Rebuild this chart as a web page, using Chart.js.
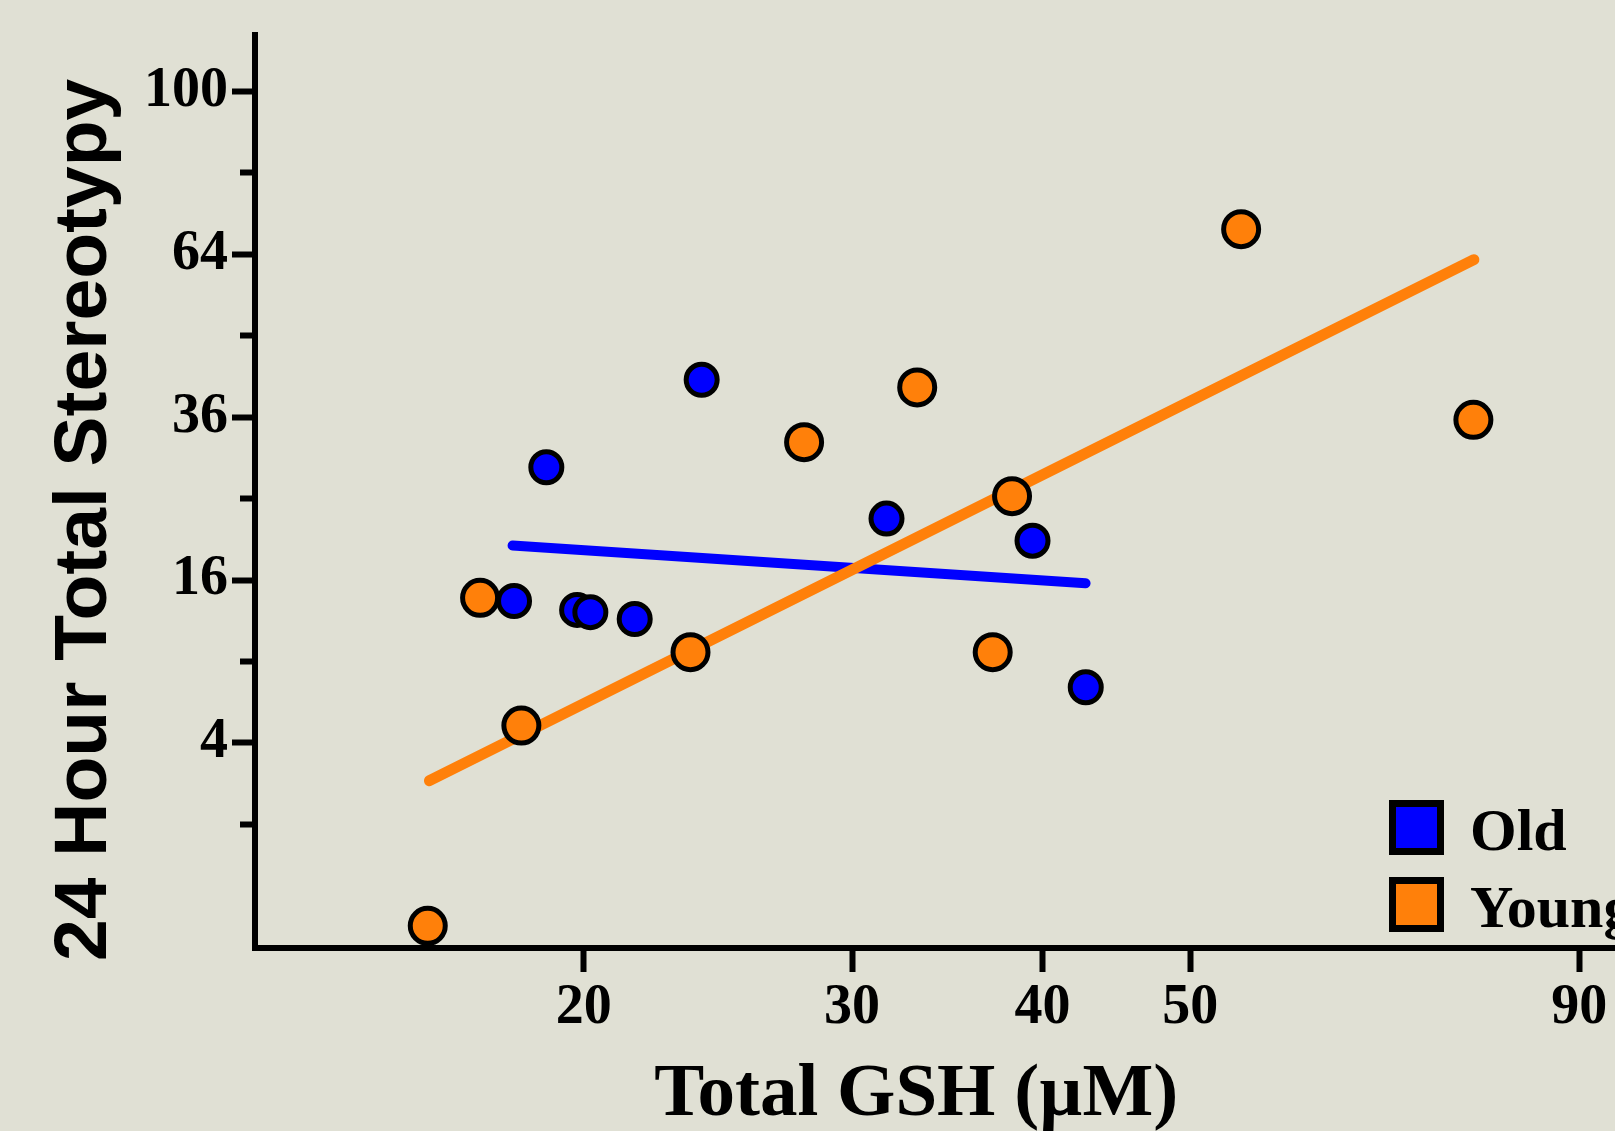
<!DOCTYPE html>
<html>
<head>
<meta charset="utf-8">
<title>Total GSH vs 24 Hour Total Stereotypy</title>
<script src="https://cdn.jsdelivr.net/npm/chart.js@4.4.1/dist/chart.umd.min.js"></script>
<style>
  html, body { margin: 0; padding: 0; background: #e0e0d4; overflow: hidden; }
  #wrap { position: relative; width: 1615px; height: 1131px; }
  #legend {
    position: absolute; left: 1389px; top: 800px;
    font: bold 60px "Liberation Serif", "Times New Roman", serif;
    color: #000; white-space: nowrap;
  }
  .item { display: flex; align-items: flex-start; height: 55px; margin-bottom: 22px; }
  .box { width: 55px; height: 55px; box-sizing: border-box; border: 7px solid #000; }
  .label { margin-left: 26px; line-height: 1; }
</style>
</head>
<body>
<div id="wrap">
  <canvas id="chart" width="1615" height="1131"></canvas>
  <div id="legend"></div>
</div>
<script>
// valores (GSH em µM, estereotipia em 24 h)
const oldGsh = [23.9, 18.9, 18.0, 19.8, 20.2, 21.6, 31.6, 39.4, 42.7];
const oldStereo = [41.7, 29.0, 14.0, 13.2, 13.0, 12.4, 22.6, 20.1, 7.2];
const youngGsh = [15.8, 17.1, 18.2, 23.5, 27.9, 33.1, 37.1, 38.2, 54.0, 76.7];
const youngStereo = [-0.06, 14.3, 4.9, 9.7, 32.4, 40.5, 9.7, 25.3, 69.0, 35.6];

// retas de regressão (extremos)
const oldFitGsh = [17.96, 42.69];
const oldFitStereo = [19.57, 15.69];
const youngFitGsh = [15.84, 76.76];
const youngFitStereo = [2.36, 62.93];

const groups = ['Old', 'Young'];
const groupColors = ['#0000ff', '#ff800a'];

const xTicks = [20, 30, 40, 50, 90];
const yTicks = [1, 4, 9, 16, 25, 36, 49, 64, 81, 100];
const yLabels = [4, 16, 36, 64, 100];

const serif = '"Liberation Serif", "Times New Roman", serif';
const sans = '"Liberation Sans", Arial, Helvetica, sans-serif';

// eixo em raiz quadrada (4, 16, 36... igualmente espaçados)
const sq = (v) => Math.sign(v) * Math.sqrt(Math.abs(v));

class SqrtScale extends Chart.LinearScale {
  static id = 'sqrt';
  static defaults = Chart.LinearScale.defaults;

  configure() {
    super.configure();
    this._sqMin = sq(this.min);
    this._sqRange = sq(this.max) - this._sqMin;
  }

  getPixelForValue(value) {
    if (value === null || isNaN(value)) return NaN;
    return this.getPixelForDecimal((sq(value) - this._sqMin) / this._sqRange);
  }

  getValueForPixel(pixel) {
    const s = this._sqMin + this.getDecimalForPixel(pixel) * this._sqRange;
    return Math.sign(s) * s * s;
  }
}
Chart.register(SqrtScale);

const toPoints = (xs, ys) => xs.map((x, i) => ({ x: x, y: ys[i] }));

const tickFont = { family: serif, size: 56, weight: 'bold', lineHeight: 1 };

new Chart(document.getElementById('chart'), {
  type: 'scatter',
  data: {
    datasets: [
      {
        label: groups[1],
        data: toPoints(youngGsh, youngStereo),
        backgroundColor: groupColors[1],
        borderColor: '#000',
        pointBorderWidth: 5,
        pointRadius: 17.5,
        order: 0
      },
      {
        label: groups[0],
        data: toPoints(oldGsh, oldStereo),
        backgroundColor: groupColors[0],
        borderColor: '#000',
        pointBorderWidth: 5,
        pointRadius: 15.5,
        order: 1
      },
      {
        label: groups[1] + ' fit',
        data: toPoints(youngFitGsh, youngFitStereo),
        showLine: true,
        borderColor: groupColors[1],
        borderWidth: 11,
        borderCapStyle: 'round',
        pointRadius: 0,
        order: 2
      },
      {
        label: groups[0] + ' fit',
        data: toPoints(oldFitGsh, oldFitStereo),
        showLine: true,
        borderColor: groupColors[0],
        borderWidth: 10,
        borderCapStyle: 'round',
        pointRadius: 0,
        order: 3
      }
    ]
  },
  options: {
    responsive: false,
    animation: false,
    events: [],
    // sem autoPadding: o eixo x vai até a borda direita, como no original
    layout: { autoPadding: false, padding: { top: 35, left: 0, right: 0, bottom: 0 } },
    plugins: {
      legend: { display: false },
      tooltip: { enabled: false }
    },
    scales: {
      x: {
        type: 'logarithmic',
        min: 12.17,
        max: 95,
        border: { display: true, color: '#000', width: 6 },
        grid: { drawOnChartArea: false, tickLength: 24, tickWidth: 6, tickColor: '#000' },
        afterBuildTicks: (scale) => { scale.ticks = xTicks.map((v) => ({ value: v })); },
        afterFit: (scale) => {
          scale.height = 183;
          scale.paddingLeft = 0;
          scale.paddingRight = 0;
        },
        ticks: {
          autoSkip: false,
          maxRotation: 0,
          padding: 9,
          color: '#000',
          font: tickFont,
          callback: (value) => String(value)
        },
        title: {
          display: true,
          // espaços no fim deslocam o título um pouco para a esquerda, como no original
          text: 'Total GSH (µM)  ',
          color: '#000',
          font: { family: serif, size: 75, weight: 'bold', lineHeight: 0.94 },
          padding: 0
        }
      },
      y: {
        type: 'sqrt',
        min: -0.268,
        max: 114.3,
        bounds: 'data',
        border: { display: true, color: '#000', width: 6 },
        grid: {
          drawOnChartArea: false,
          tickLength: 23,
          tickWidth: 6,
          tickColor: '#000',
          // marcas menores mais curtas
          tickBorderDash: (ctx) => (ctx.tick && yLabels.includes(ctx.tick.value)) ? [] : [0, 8, 60, 0]
        },
        afterBuildTicks: (scale) => { scale.ticks = yTicks.map((v) => ({ value: v })); },
        afterFit: (scale) => {
          scale.width = 255;
          scale.paddingTop = 0;
          scale.paddingBottom = 0;
        },
        ticks: {
          autoSkip: false,
          padding: 4,
          color: '#000',
          font: tickFont,
          callback: (value) => yLabels.includes(value) ? String(value) : ''
        },
        title: {
          display: true,
          // idem: empurra o título para baixo
          text: '24 Hour Total Stereotypy  \u2009',
          color: '#000',
          font: { family: sans, size: 75, weight: 'bold' },
          padding: { top: 40, bottom: 0 }
        }
      }
    }
  }
});

// legenda em HTML a partir dos grupos
const legendEl = document.getElementById('legend');
groups.forEach((name, i) => {
  const row = document.createElement('div');
  row.className = 'item';
  row.innerHTML = '<span class="box" style="background:' + groupColors[i] + '"></span>' +
    '<span class="label">' + name + '</span>';
  legendEl.appendChild(row);
});
</script>
</body>
</html>
